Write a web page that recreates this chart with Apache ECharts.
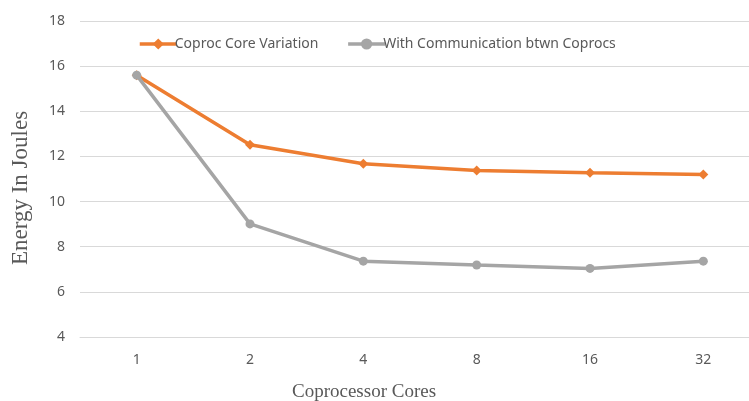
<!DOCTYPE html>
<html><head><meta charset="utf-8">
<script src="https://cdn.jsdelivr.net/npm/echarts@6/dist/echarts.min.js"></script>
<style>html,body{margin:0;padding:0;background:#fff;overflow:hidden}#c{width:760px;height:401px}</style>
</head><body><div id="c"></div>
<script>
const categories = ['1','2','4','8','16','32'];
const coprocCore = [15.6, 12.52, 11.68, 11.38, 11.28, 11.2];
const withComm = [15.6, 9.01, 7.36, 7.19, 7.04, 7.36];
const yTicks = {min: 4, max: 18, interval: 2};
const seriesNames = ['Coproc Core Variation', 'With Communication btwn Coprocs'];

const chart = echarts.init(document.getElementById('c'), null, {renderer: 'canvas'});
chart.setOption({
  animation: false,
  backgroundColor: '#fff',
  grid: {left: 80, top: 21, right: 0, bottom: 64, containLabel: false},
  title: {
    text: 'Coprocessor Cores', left: 287, top: 378,
    textStyle: {fontFamily: 'Liberation Serif', fontSize: 19, fontWeight: 'normal', color: '#595959'}
  },
  legend: {
    left: 133, top: 32, itemWidth: 37, itemHeight: 14, itemGap: 28,
    lineStyle: {width: 3.5},
    textStyle: {fontFamily: 'Noto Sans', fontSize: 14, color: '#595959', padding: [0, 0, 0, -7]},
    data: seriesNames
  },
  xAxis: {
    type: 'category', data: categories, boundaryGap: true,
    axisLine: {show: true, lineStyle: {color: '#D9D9D9'}},
    axisTick: {show: false},
    axisLabel: {fontFamily: 'Noto Sans', fontSize: 14, color: '#595959', margin: 16}
  },
  yAxis: {
    type: 'value', min: yTicks.min, max: yTicks.max, interval: yTicks.interval,
    name: 'Energy In Joules', nameLocation: 'middle', nameGap: 48,
    nameTextStyle: {fontFamily: 'Liberation Serif', fontSize: 23, color: '#595959', padding: [0, 18, 0, 0]},
    axisLine: {show: false}, axisTick: {show: false},
    axisLabel: {fontFamily: 'Noto Sans', fontSize: 14, color: '#595959', margin: 15},
    splitLine: {lineStyle: {color: '#D9D9D9', width: 1}}
  },
  series: [
    {name: seriesNames[0], type: 'line', data: coprocCore, symbol: 'diamond', symbolSize: 10,
     itemStyle: {color: '#ED7D31'}, lineStyle: {color: '#ED7D31', width: 3.5}},
    {name: seriesNames[1], type: 'line', data: withComm, symbol: 'circle', symbolSize: 9,
     itemStyle: {color: '#A5A5A5'}, lineStyle: {color: '#A5A5A5', width: 3.5}}
  ]
});
</script></body></html>
